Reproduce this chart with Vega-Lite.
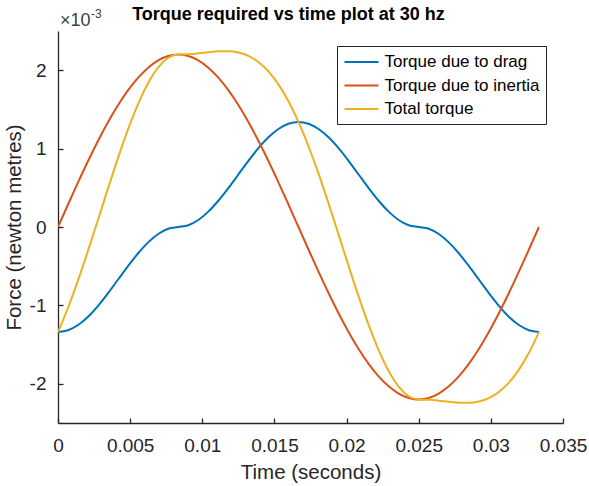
{
  "$schema": "https://vega.github.io/schema/vega-lite/v6.json",
  "width": 505,
  "height": 392,
  "autosize": {"type": "none"},
  "padding": {"left": 58, "top": 31, "right": 26, "bottom": 63},
  "background": "white",
  "title": {
    "text": "Torque required vs time plot at 30 hz",
    "font": "Liberation Sans",
    "fontSize": 18,
    "fontWeight": "bold",
    "color": "#000000",
    "anchor": "middle",
    "offset": -16,
    "dx": -22
  },
  "config": {
    "view": {"stroke": null},
    "font": "Liberation Sans"
  },
  "data": {
    "values": [
      {"t": 0, "Torque due to drag": -1.34, "Torque due to inertia": 0, "Total torque": -1.34},
      {"t": 0.000694, "Torque due to drag": -1.3172, "Torque due to inertia": 0.2872, "Total torque": -1.03},
      {"t": 0.001389, "Torque due to drag": -1.2502, "Torque due to inertia": 0.5694, "Total torque": -0.6808},
      {"t": 0.002083, "Torque due to drag": -1.1438, "Torque due to inertia": 0.8419, "Total torque": -0.3019},
      {"t": 0.002778, "Torque due to drag": -1.005, "Torque due to inertia": 1.1, "Total torque": 0.095},
      {"t": 0.003472, "Torque due to drag": -0.8434, "Torque due to inertia": 1.3393, "Total torque": 0.4959},
      {"t": 0.004167, "Torque due to drag": -0.67, "Torque due to inertia": 1.5556, "Total torque": 0.8856},
      {"t": 0.004861, "Torque due to drag": -0.4966, "Torque due to inertia": 1.7454, "Total torque": 1.2488},
      {"t": 0.005556, "Torque due to drag": -0.335, "Torque due to inertia": 1.9053, "Total torque": 1.5703},
      {"t": 0.00625, "Torque due to drag": -0.1962, "Torque due to inertia": 2.0325, "Total torque": 1.8363},
      {"t": 0.006944, "Torque due to drag": -0.0898, "Torque due to inertia": 2.125, "Total torque": 2.0352},
      {"t": 0.007639, "Torque due to drag": -0.0228, "Torque due to inertia": 2.1812, "Total torque": 2.1584},
      {"t": 0.008333, "Torque due to drag": 0, "Torque due to inertia": 2.2, "Total torque": 2.2},
      {"t": 0.009028, "Torque due to drag": 0.0228, "Torque due to inertia": 2.1812, "Total torque": 2.204},
      {"t": 0.009722, "Torque due to drag": 0.0898, "Torque due to inertia": 2.125, "Total torque": 2.2148},
      {"t": 0.010417, "Torque due to drag": 0.1962, "Torque due to inertia": 2.0325, "Total torque": 2.2287},
      {"t": 0.011111, "Torque due to drag": 0.335, "Torque due to inertia": 1.9053, "Total torque": 2.2403},
      {"t": 0.011806, "Torque due to drag": 0.4966, "Torque due to inertia": 1.7454, "Total torque": 2.242},
      {"t": 0.0125, "Torque due to drag": 0.67, "Torque due to inertia": 1.5556, "Total torque": 2.2256},
      {"t": 0.013194, "Torque due to drag": 0.8434, "Torque due to inertia": 1.3393, "Total torque": 2.1827},
      {"t": 0.013889, "Torque due to drag": 1.005, "Torque due to inertia": 1.1, "Total torque": 2.105},
      {"t": 0.014583, "Torque due to drag": 1.1438, "Torque due to inertia": 0.8419, "Total torque": 1.9857},
      {"t": 0.015278, "Torque due to drag": 1.2502, "Torque due to inertia": 0.5694, "Total torque": 1.8196},
      {"t": 0.015972, "Torque due to drag": 1.3172, "Torque due to inertia": 0.2872, "Total torque": 1.6044},
      {"t": 0.016667, "Torque due to drag": 1.34, "Torque due to inertia": 0, "Total torque": 1.34},
      {"t": 0.017361, "Torque due to drag": 1.3172, "Torque due to inertia": -0.2872, "Total torque": 1.03},
      {"t": 0.018056, "Torque due to drag": 1.2502, "Torque due to inertia": -0.5694, "Total torque": 0.6808},
      {"t": 0.01875, "Torque due to drag": 1.1438, "Torque due to inertia": -0.8419, "Total torque": 0.3019},
      {"t": 0.019444, "Torque due to drag": 1.005, "Torque due to inertia": -1.1, "Total torque": -0.095},
      {"t": 0.020139, "Torque due to drag": 0.8434, "Torque due to inertia": -1.3393, "Total torque": -0.4959},
      {"t": 0.020833, "Torque due to drag": 0.67, "Torque due to inertia": -1.5556, "Total torque": -0.8856},
      {"t": 0.021528, "Torque due to drag": 0.4966, "Torque due to inertia": -1.7454, "Total torque": -1.2488},
      {"t": 0.022222, "Torque due to drag": 0.335, "Torque due to inertia": -1.9053, "Total torque": -1.5703},
      {"t": 0.022917, "Torque due to drag": 0.1962, "Torque due to inertia": -2.0325, "Total torque": -1.8363},
      {"t": 0.023611, "Torque due to drag": 0.0898, "Torque due to inertia": -2.125, "Total torque": -2.0352},
      {"t": 0.024306, "Torque due to drag": 0.0228, "Torque due to inertia": -2.1812, "Total torque": -2.1584},
      {"t": 0.025, "Torque due to drag": 0, "Torque due to inertia": -2.2, "Total torque": -2.2},
      {"t": 0.025694, "Torque due to drag": -0.0228, "Torque due to inertia": -2.1812, "Total torque": -2.204},
      {"t": 0.026389, "Torque due to drag": -0.0898, "Torque due to inertia": -2.125, "Total torque": -2.2148},
      {"t": 0.027083, "Torque due to drag": -0.1962, "Torque due to inertia": -2.0325, "Total torque": -2.2287},
      {"t": 0.027778, "Torque due to drag": -0.335, "Torque due to inertia": -1.9053, "Total torque": -2.2403},
      {"t": 0.028472, "Torque due to drag": -0.4966, "Torque due to inertia": -1.7454, "Total torque": -2.242},
      {"t": 0.029167, "Torque due to drag": -0.67, "Torque due to inertia": -1.5556, "Total torque": -2.2256},
      {"t": 0.029861, "Torque due to drag": -0.8434, "Torque due to inertia": -1.3393, "Total torque": -2.1827},
      {"t": 0.030556, "Torque due to drag": -1.005, "Torque due to inertia": -1.1, "Total torque": -2.105},
      {"t": 0.03125, "Torque due to drag": -1.1438, "Torque due to inertia": -0.8419, "Total torque": -1.9857},
      {"t": 0.031944, "Torque due to drag": -1.2502, "Torque due to inertia": -0.5694, "Total torque": -1.8196},
      {"t": 0.032639, "Torque due to drag": -1.3172, "Torque due to inertia": -0.2872, "Total torque": -1.6044},
      {"t": 0.033333, "Torque due to drag": -1.34, "Torque due to inertia": 0, "Total torque": -1.34}
    ]
  },
  "layer": [
    {
      "transform": [
        {"fold": ["Torque due to drag", "Torque due to inertia", "Total torque"], "as": ["series", "value"]}
      ],
      "mark": {"type": "line", "strokeWidth": 2, "interpolate": "monotone", "clip": true},
      "encoding": {
        "x": {
          "field": "t",
          "type": "quantitative",
          "scale": {"domain": [0, 0.035], "nice": false, "zero": false},
          "axis": {
            "title": "Time (seconds)",
            "values": [0, 0.005, 0.01, 0.015, 0.02, 0.025, 0.03, 0.035],
            "labelExpr": "'' + datum.value",
            "grid": false,
            "domainColor": "#262626",
            "domainWidth": 1.3,
            "tickColor": "#262626",
            "tickWidth": 1.3,
            "tickSize": -5,
            "labelPadding": 18,
            "labelFontSize": 19,
            "labelColor": "#262626",
            "labelFont": "Liberation Sans",
            "labelFlush": false,
            "labelOverlap": false,
            "titleFontSize": 20.5,
            "titleFontWeight": "normal",
            "titleColor": "#262626",
            "titleFont": "Liberation Sans",
            "titlePadding": 7
          }
        },
        "y": {
          "field": "value",
          "type": "quantitative",
          "scale": {"domain": [-2.5, 2.5], "nice": false, "zero": false},
          "axis": {
            "title": "Force (newton metres)",
            "values": [-2, -1, 0, 1, 2],
            "labelExpr": "datum.value < 0 ? '-' + abs(datum.value) : '' + datum.value",
            "grid": false,
            "domainColor": "#262626",
            "domainWidth": 1.3,
            "tickColor": "#262626",
            "tickWidth": 1.3,
            "tickSize": -5,
            "labelPadding": 17,
            "labelFontSize": 19,
            "labelColor": "#262626",
            "labelFont": "Liberation Sans",
            "labelFlush": false,
            "labelOverlap": false,
            "titleFontSize": 20.5,
            "titleFontWeight": "normal",
            "titleColor": "#262626",
            "titleFont": "Liberation Sans",
            "titlePadding": 5
          }
        },
        "color": {
          "field": "series",
          "type": "nominal",
          "scale": {
            "domain": ["Torque due to drag", "Torque due to inertia", "Total torque"],
            "range": ["#0072BD", "#D95319", "#EDB120"]
          },
          "legend": {
            "title": null,
            "orient": "none",
            "legendX": 279,
            "legendY": 15,
            "symbolType": "M-1,0H3",
            "symbolSize": 289,
            "symbolStrokeWidth": 2,
            "labelFontSize": 17,
            "labelFont": "Liberation Sans",
            "labelColor": "#000000",
            "labelOffset": 22,
            "labelLimit": 300,
            "rowPadding": 5.5,
            "padding": 6.5,
            "strokeColor": "#262626",
            "fillColor": "#ffffff"
          }
        }
      }
    },
    {
      "data": {"values": [{"label": "×10"}]},
      "mark": {"type": "text", "align": "left", "baseline": "alphabetic", "dx": 2, "dy": -5, "fontSize": 18, "font": "Liberation Sans", "color": "#404040"},
      "encoding": {"x": {"datum": 0}, "y": {"datum": 2.5}, "text": {"field": "label"}}
    },
    {
      "data": {"values": [{"label": "-3"}]},
      "mark": {"type": "text", "align": "left", "baseline": "alphabetic", "dx": 33, "dy": -13, "fontSize": 12, "font": "Liberation Sans", "color": "#404040"},
      "encoding": {"x": {"datum": 0}, "y": {"datum": 2.5}, "text": {"field": "label"}}
    }
  ]
}
